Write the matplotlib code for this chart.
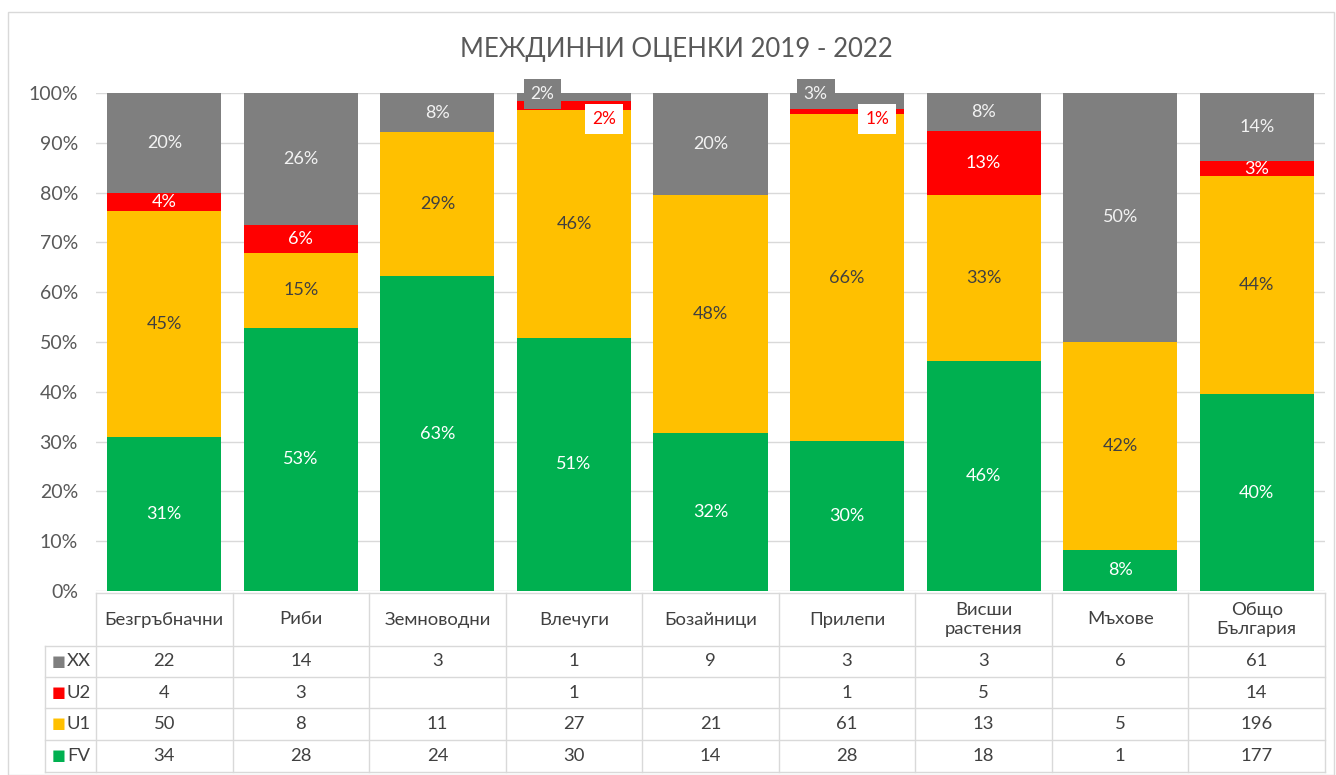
import numpy as np
import matplotlib
matplotlib.use("Agg")
import matplotlib.pyplot as plt
from matplotlib.patches import Rectangle

plt.rcParams['font.family'] = ['Lato', 'DejaVu Sans']

categories = ["Безгръбначни", "Риби", "Земноводни", "Влечуги", "Бозайници",
              "Прилепи", "Висши\nрастения", "Мъхове", "Общо\nБългария"]
series = ["FV", "U1", "U2", "XX"]
fv = [34, 28, 24, 30, 14, 28, 18, 1, 177]
u1 = [50, 8, 11, 27, 21, 61, 13, 5, 196]
u2 = [4, 3, 0, 1, 0, 1, 5, 0, 14]
xx = [22, 14, 3, 1, 9, 3, 3, 6, 61]

colors = {"FV": "#00b050", "U1": "#ffc000", "U2": "#ff0000", "XX": "#7f7f7f"}
label_colors = {"FV": "white", "U1": "#404040", "U2": "white", "XX": "#f2f2f2"}

counts = {"FV": np.array(fv), "U1": np.array(u1), "U2": np.array(u2), "XX": np.array(xx)}
total = sum(counts.values())

W, H = 1336, 775
fig = plt.figure(figsize=(W / 100, H / 100), dpi=100)

# outer frame
fig.patches.append(Rectangle((8 / W, 0), (W - 10) / W, (H - 12) / H, transform=fig.transFigure,
                             fill=False, edgecolor="#d9d9d9", linewidth=1))

x_left, x_right = 96, 1325
ax = fig.add_axes([x_left / W, 1 - 591 / H, (x_right - x_left) / W, (591 - 93) / H])
n = len(categories)
x = np.arange(n)

bottom = np.zeros(n)
for s in series:
    share = counts[s] / total * 100
    ax.bar(x, share, bottom=bottom, width=0.835, color=colors[s], zorder=2)
    for i in range(n):
        if counts[s][i] == 0:
            continue
        txt = "%d%%" % round(share[i])
        yc = bottom[i] + share[i] / 2
        if s == "XX" and share[i] < 4:
            # small top segments: label sits on the bar top, shifted left
            ax.text(x[i] - 0.23, 99.8, txt, ha="center", va="center", fontsize=12.5,
                    color="#f2f2f2", zorder=4,
                    bbox=dict(boxstyle="square,pad=0.4", fc="#7f7f7f", ec="none"))
        elif s == "U2" and share[i] < 2:
            ax.text(x[i] + 0.22, 94.8, txt, ha="center", va="center", fontsize=12.5,
                    color="#ff0000", zorder=4,
                    bbox=dict(boxstyle="square,pad=0.4", fc="white", ec="none"))
        else:
            ax.text(x[i], yc, txt, ha="center", va="center", fontsize=13,
                    color=label_colors[s], zorder=3)
    bottom += share

ax.set_xlim(-0.5, n - 0.5)
ax.set_ylim(0, 100)
ax.set_yticks(np.arange(0, 101, 10))
ax.set_yticklabels(["%d%%" % v for v in range(0, 101, 10)], fontsize=14, color="#595959")
ax.set_xticks([])
ax.grid(axis="y", color="#d9d9d9", linewidth=1, zorder=0)
ax.tick_params(axis="y", length=0, pad=13)
for sp in ax.spines.values():
    sp.set_visible(False)

fig.text(676 / W, 1 - 50 / H, "МЕЖДИННИ ОЦЕНКИ 2019 - 2022", ha="center", va="center",
         fontsize=18.5, color="#595959")

# data table
tax = fig.add_axes([x_left / W, 1 - 773 / H, (x_right - x_left) / W, (773 - 593) / H])
tax.set_xlim(-0.5, n - 0.5)
tax.set_ylim(773, 593)
tax.axis("off")
line_c = "#d9d9d9"
leg_left = -0.5 - (x_left - 45) / ((x_right - x_left) / n)
row_edges = [646, 677, 708, 740, 772]
tax.plot([-0.5, n - 0.5], [593, 593], color=line_c, lw=1, clip_on=False)
for y in row_edges:
    tax.plot([leg_left, n - 0.5], [y, y], color=line_c, lw=1, clip_on=False)
for i in range(n + 1):
    tax.plot([i - 0.5, i - 0.5], [593, 772], color=line_c, lw=1, clip_on=False)
tax.plot([leg_left, leg_left], [646, 772], color=line_c, lw=1, clip_on=False)

for i, c in enumerate(categories):
    tax.text(i, 619.5, c, ha="center", va="center", fontsize=13.3, color="#404040",
             linespacing=1.2)

table_rows = ["XX", "U2", "U1", "FV"]
for r, s in enumerate(table_rows):
    yc = (row_edges[r] + row_edges[r + 1]) / 2
    tax.text(leg_left + 0.05, yc, "■", ha="left", va="center", fontsize=10.5,
             color=colors[s], family=["DejaVu Sans"], clip_on=False)
    tax.text(leg_left + 0.16, yc, s, ha="left", va="center", fontsize=13.3,
             color="#404040", clip_on=False)
    for i in range(n):
        v = counts[s][i]
        if v:
            tax.text(i, yc, str(v), ha="center", va="center", fontsize=13.3, color="#404040")

fig.savefig("out.png", dpi=100)
